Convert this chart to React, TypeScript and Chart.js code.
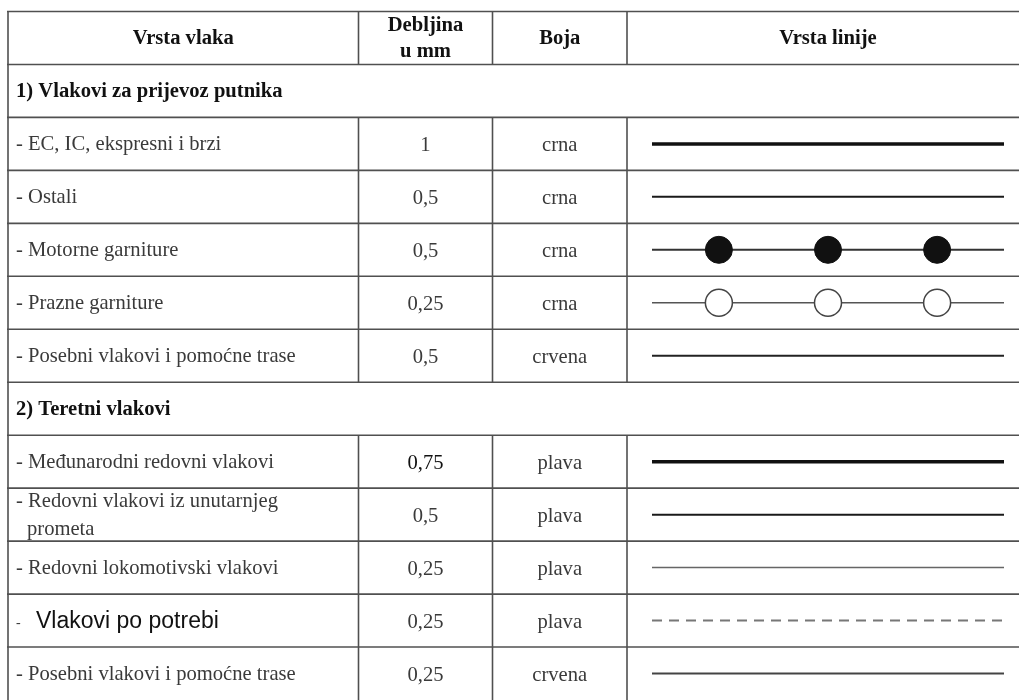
import React, { useEffect, useRef } from 'react';
import { Chart, registerables } from 'chart.js';

Chart.register(...registerables);

// ---------- DATA ----------
const headers = ['Vrsta vlaka', 'Debljina\nu mm', 'Boja', 'Vrsta linije'];
const sections = ['1) Vlakovi za prijevoz putnika', '2) Teretni vlakovi'];

const passengerTrains = [
  '- EC, IC, ekspresni i brzi',
  '- Ostali',
  '- Motorne garniture',
  '- Prazne garniture',
  '- Posebni vlakovi i pomoćne trase',
];
const passengerWidths = ['1', '0,5', '0,5', '0,25', '0,5'];
const passengerColours = ['crna', 'crna', 'crna', 'crna', 'crvena'];
const passengerPatterns = ['solid', 'solid', 'filled', 'hollow', 'solid'];

const freightTrains = [
  '- Međunarodni redovni vlakovi',
  '- Redovni vlakovi iz unutarnjeg\nprometa',
  '- Redovni lokomotivski vlakovi',
  '- Vlakovi po potrebi',
  '- Posebni vlakovi i pomoćne trase',
];
const freightWidths = ['0,75', '0,5', '0,25', '0,25', '0,25'];
const freightColours = ['plava', 'plava', 'plava', 'plava', 'crvena'];
const freightPatterns = ['solid', 'solid', 'solid', 'dashed', 'solid'];

// marker positions along the sample line (fraction of its length)
const markerPositions = [0.19, 0.5, 0.81];

// ---------- LAYOUT / STYLE ----------
const COL_EDGES = [0, 350.5, 484.5, 619]; // table units (px from table's left edge)
const LINE_START = 644;
const LINE_END = 996;
const SERIF = '"Liberation Serif", "Times New Roman", serif';
const SANS = '"Liberation Sans", Arial, sans-serif';
const FS = 20.6;

type Row =
  | { kind: 'header' }
  | { kind: 'section'; text: string }
  | { kind: 'item'; label: string; width: string; colour: string; pattern: string; group: number; idx: number };

const rows: Row[] = [
  { kind: 'header' },
  { kind: 'section', text: sections[0] },
  ...passengerTrains.map((t, i) => ({
    kind: 'item' as const, label: t, width: passengerWidths[i], colour: passengerColours[i],
    pattern: passengerPatterns[i], group: 0, idx: i,
  })),
  { kind: 'section', text: sections[1] },
  ...freightTrains.map((t, i) => ({
    kind: 'item' as const, label: t, width: freightWidths[i], colour: freightColours[i],
    pattern: freightPatterns[i], group: 1, idx: i,
  })),
];

// per-row line styles (group -> idx)
const lineStyles = [
  [
    { color: '#111', w: 3.5 },
    { color: '#1a1a1a', w: 2 },
    { color: '#333', w: 2 },
    { color: '#555', w: 1.5 },
    { color: '#222', w: 2 },
  ],
  [
    { color: '#111', w: 3.5 },
    { color: '#1a1a1a', w: 2 },
    { color: '#666', w: 1.5 },
    { color: '#777', w: 2 },
    { color: '#444', w: 2 },
  ],
];

function buildDatasets() {
  const ds: any[] = [];
  rows.forEach((row, r) => {
    if (row.kind !== 'item') return;
    const st = lineStyles[row.group][row.idx];
    const xs = [LINE_START];
    const radii = [0];
    if (row.pattern === 'filled' || row.pattern === 'hollow') {
      markerPositions.forEach((f) => {
        xs.push(LINE_START + f * (LINE_END - LINE_START));
        radii.push(13.5);
      });
    }
    xs.push(LINE_END);
    radii.push(0);
    ds.push({
      label: row.label,
      data: xs.map((x) => ({ x, y: r })),
      showLine: true,
      borderColor: st.color,
      borderWidth: st.w,
      borderDash: row.pattern === 'dashed' ? [10, 7] : [],
      borderCapStyle: 'butt',
      pointRadius: radii,
      pointHoverRadius: radii,
      pointBackgroundColor: row.pattern === 'hollow' ? '#ffffff' : '#111',
      pointBorderColor: row.pattern === 'hollow' ? '#444' : '#111',
      pointBorderWidth: row.pattern === 'hollow' ? 1.5 : 1,
      tension: 0,
      clip: false,
    });
  });
  return ds;
}

const tablePlugin = {
  id: 'tableGrid',
  beforeDatasetsDraw(chart: any) {
    const { ctx, scales } = chart;
    const x = scales.x;
    const y = scales.y;
    const line = (x1: number, y1: number, x2: number, y2: number) => {
      ctx.beginPath();
      ctx.moveTo(x1, y1);
      ctx.lineTo(x2, y2);
      ctx.stroke();
    };
    ctx.save();
    ctx.strokeStyle = '#505050';
    ctx.lineWidth = 1.6;
    const left = x.getPixelForValue(0);
    const right = chart.width;
    for (let r = 0; r < rows.length; r++) {
      const py = y.getPixelForValue(r - 0.5);
      line(left - 1, py, right, py);
    }
    line(left, y.getPixelForValue(-0.5), left, y.getPixelForValue(rows.length - 0.5));
    rows.forEach((row, r) => {
      if (row.kind === 'section') return;
      COL_EDGES.slice(1).forEach((c) => {
        const px = x.getPixelForValue(c);
        line(px, y.getPixelForValue(r - 0.5), px, y.getPixelForValue(r + 0.5));
      });
    });
    ctx.restore();
  },
  afterDatasetsDraw(chart: any) {
    const { ctx, scales } = chart;
    const x = scales.x;
    const y = scales.y;
    const colCenter = (c: number) => {
      const a = COL_EDGES[c];
      const b = c + 1 < COL_EDGES.length ? COL_EDGES[c + 1] : LINE_START + LINE_END - COL_EDGES[c];
      return x.getPixelForValue((a + b) / 2);
    };
    const textLeft = x.getPixelForValue(8);
    ctx.save();
    ctx.textBaseline = 'middle';
    const multi = (text: string, px: number, py: number, gap: number, indent = 0) => {
      const parts = text.split('\n');
      const n = parts.length;
      parts.forEach((p, i) => {
        ctx.fillText(p, px + (i > 0 ? indent : 0), py + (i - (n - 1) / 2) * gap);
      });
    };
    rows.forEach((row, r) => {
      const cy = y.getPixelForValue(r) + 1;
      if (row.kind === 'header') {
        ctx.fillStyle = '#111';
        ctx.font = `bold ${FS}px ${SERIF}`;
        ctx.textAlign = 'center';
        headers.forEach((h, c) => multi(h, colCenter(c), cy, 26));
      } else if (row.kind === 'section') {
        ctx.fillStyle = '#111';
        ctx.font = `bold ${FS}px ${SERIF}`;
        ctx.textAlign = 'left';
        ctx.fillText(row.text, textLeft, cy);
      } else {
        ctx.textAlign = 'left';
        ctx.fillStyle = '#3a3a3a';
        if (row.group === 1 && row.idx === 3) {
          // this row is typed in a different (sans) font in the source
          const sp = row.label.indexOf(' ');
          ctx.font = `14px ${SERIF}`;
          ctx.fillText(row.label.slice(0, sp), textLeft, cy + 2);
          ctx.fillStyle = '#111';
          ctx.font = `23px ${SANS}`;
          ctx.fillText(row.label.slice(sp + 1), textLeft + 20, cy);
        } else {
          ctx.font = `${FS}px ${SERIF}`;
          multi(row.label, textLeft, cy, 28, 11);
        }
        ctx.textAlign = 'center';
        ctx.font = `${FS}px ${SERIF}`;
        ctx.fillStyle = row.group === 1 && row.idx === 0 ? '#111' : '#3a3a3a';
        ctx.fillText(row.width, colCenter(1), cy + 1);
        ctx.fillStyle = '#3a3a3a';
        ctx.fillText(row.colour, colCenter(2), cy + 1);
      }
    });
    ctx.restore();
  },
};

export default function App() {
  const ref = useRef<HTMLCanvasElement | null>(null);
  useEffect(() => {
    if (!ref.current) return;
    const chart = new Chart(ref.current, {
      type: 'scatter',
      data: { datasets: buildDatasets() },
      options: {
        animation: false,
        responsive: true,
        maintainAspectRatio: false,
        events: [],
        layout: { padding: { left: 8, right: 0, top: 11.5, bottom: 0 } },
        scales: {
          x: { type: 'linear', min: 0, max: 1011, display: false },
          y: { type: 'linear', min: -0.5, max: rows.length - 0.5, reverse: true, display: false },
        },
        plugins: { legend: { display: false }, tooltip: { enabled: false } },
      },
      plugins: [tablePlugin],
    });
    return () => chart.destroy();
  }, []);
  return (
    <div style={{ position: 'fixed', left: 0, top: 0, width: 1019, height: 700, background: '#fff' }}>
      <canvas ref={ref} />
    </div>
  );
}
